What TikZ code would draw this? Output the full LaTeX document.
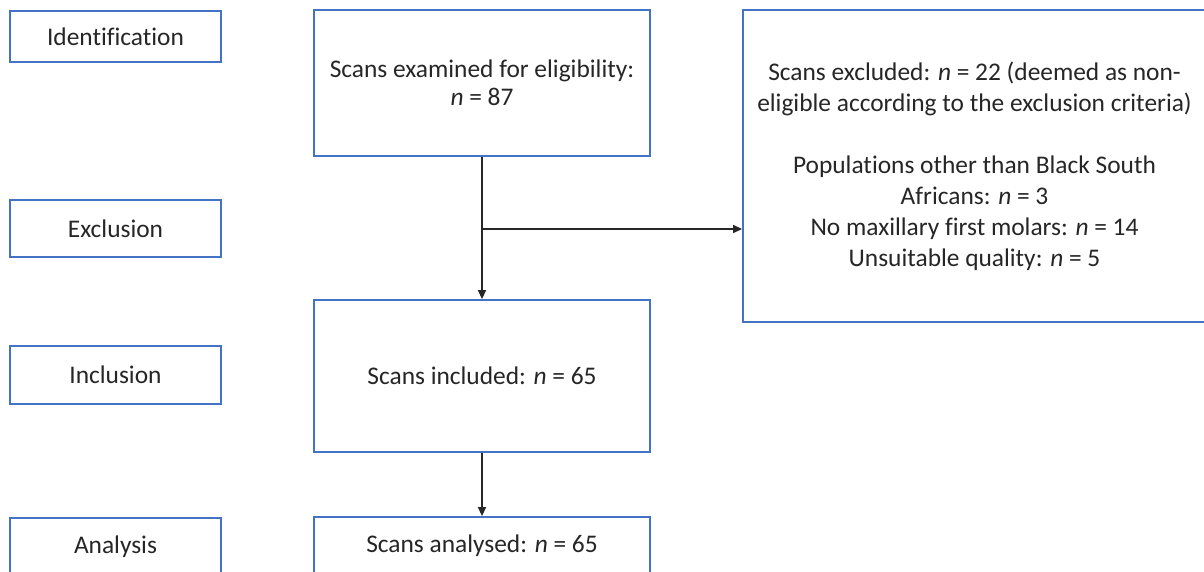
\documentclass[tikz,border=0pt]{standalone}
\usepackage{fontspec}
\setmainfont{Carlito}[Ligatures=NoCommon]
\usetikzlibrary{arrows.meta}
\definecolor{boxblue}{RGB}{68,114,196}
\begin{document}
\begin{tikzpicture}[x=1pt,y=-1pt,
  box/.style={draw=boxblue,line width=1.8pt,align=center,inner sep=0pt,
    font=\fontsize{25.4}{31}\selectfont,text=black!85},
  arr/.style={draw=black!85,line width=1.4pt,-{Triangle[length=9pt,width=8pt]}}]
\useasboundingbox (0,0) rectangle (1204,571);
\fill[white] (0,0) rectangle (1204,571);
\clip (0,0) rectangle (1204,571);
% left stage labels
\node[box,minimum width=211pt,minimum height=51pt] (id) at (115.5,36.5) {Identification};
\node[box,minimum width=211pt,minimum height=57pt] (excl) at (115.5,228.5) {Exclusion};
\node[box,minimum width=211pt,minimum height=58pt] (incl) at (115.5,375) {Inclusion};
\node[box,minimum width=211pt,minimum height=57pt] (anal) at (115.5,546.5) {Analysis};
% flow boxes
\node[box,minimum width=336pt,minimum height=146pt] (exam) at (482,83)
  {\raisebox{-4pt}{\shortstack{Scans examined for eligibility:\\[3pt]\textit{n} = 87}}};
\node[box,minimum width=463pt,minimum height=312pt] (exc) at (974.5,166)
  {Scans excluded: \textit{n} = 22 (deemed as non-\\
   eligible according to the exclusion criteria)\\[31pt]
   Populations other than Black South\\
   Africans: \textit{n} = 3\\
   No maxillary first molars: \textit{n} = 14\\
   Unsuitable quality: \textit{n} = 5};
\node[box,minimum width=336pt,minimum height=152pt] (inc) at (482,376)
  {Scans included: \textit{n} = 65};
\node[box,minimum width=336pt,minimum height=58pt] (ana) at (482,546)
  {Scans analysed: \textit{n} = 65};
% connectors
\coordinate (br) at (482,229);
\draw[arr] (exam.south) -- (inc.north);
\draw[arr] (br) -- (br -| exc.west);
\draw[arr] (inc.south) -- (ana.north);
\end{tikzpicture}
\end{document}
